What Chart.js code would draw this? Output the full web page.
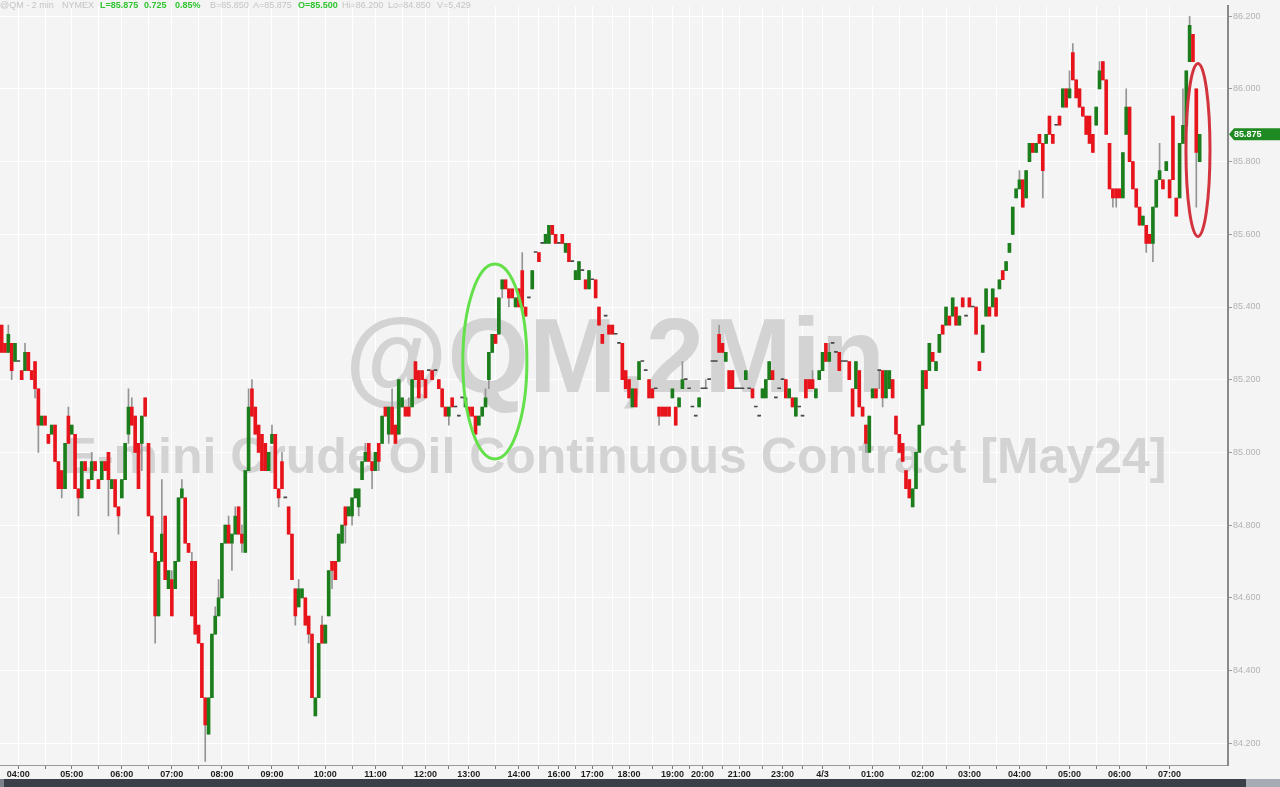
<!DOCTYPE html>
<html><head><meta charset="utf-8">
<script src="https://cdn.jsdelivr.net/npm/chart.js@4.4.1/dist/chart.umd.min.js"></script>
<style>html,body{margin:0;padding:0;background:#f4f4f4;overflow:hidden}canvas{display:block}</style>
</head><body>
<canvas id="c" width="1280" height="787"></canvas>
<script>
// ---- Candle data (2-min bars) ----
const opens = [
85.35,85.3,85.275,85.3,85.25,85.25,85.225,85.225,85.275,85.225,
85.25,85.175,85.075,85.1,85.05,85.05,85.075,84.975,84.95,84.9,
85.1,85.05,85.05,84.9,84.875,84.975,84.925,84.925,84.975,84.925,
84.925,84.975,85.0,84.9,84.925,84.85,84.875,84.925,85.05,85.125,
85.1,85.025,85.025,85.15,85.025,84.825,84.725,84.55,84.7,84.825,
84.625,84.65,84.625,84.7,84.875,84.875,84.75,84.7,84.7,84.525,
84.475,84.325,84.225,84.325,84.5,84.55,84.6,84.75,84.8,84.75,
84.775,84.85,84.775,84.725,84.95,85.175,85.125,85.075,85.05,85.025,
84.95,85.025,85.05,84.9,84.975,84.875,84.85,84.775,84.625,84.575,
84.6,84.6,84.55,84.5,84.275,84.325,84.525,84.475,84.55,84.7,
84.7,84.7,84.75,84.85,84.825,84.825,84.875,84.85,84.925,84.975,
85.025,84.975,84.95,85.025,85.025,85.125,85.05,85.125,85.075,85.05,
85.125,85.125,85.125,85.125,85.25,85.225,85.225,85.2,85.225,85.225,
85.225,85.2,85.175,85.125,85.1,85.15,85.125,85.1,85.15,85.125,
85.125,85.125,85.1,85.075,85.1,85.125,85.2,85.275,85.325,85.325,
85.45,85.475,85.45,85.45,85.4,85.45,85.5,85.4,85.425,85.45,
85.55,85.55,85.575,85.575,85.575,85.625,85.6,85.575,85.6,85.55,
85.575,85.525,85.475,85.475,85.5,85.475,85.45,85.475,85.475,85.4,
85.325,85.375,85.35,85.35,85.325,85.3,85.3,85.225,85.2,85.125,
85.175,85.2,85.25,85.225,85.2,85.175,85.175,85.125,85.125,85.125,
85.125,85.15,85.125,85.125,85.175,85.2,85.175,85.125,85.1,85.125,
85.175,85.175,85.2,85.25,85.25,85.325,85.3,85.25,85.225,85.225,
85.175,85.175,85.175,85.2,85.175,85.175,85.125,85.1,85.15,85.15,
85.2,85.225,85.15,85.175,85.2,85.2,85.15,85.15,85.1,85.125,
85.1,85.2,85.2,85.2,85.15,85.2,85.225,85.3,85.25,85.3,
85.275,85.275,85.25,85.25,85.25,85.175,85.175,85.225,85.125,85.075,
85.0,85.15,85.175,85.225,85.225,85.15,85.175,85.2,85.1,85.05,
85.025,84.95,84.925,84.85,84.9,85.0,85.075,85.225,85.225,85.275,
85.225,85.275,85.35,85.35,85.375,85.375,85.4,85.35,85.425,85.375,
85.425,85.4,85.4,85.25,85.275,85.375,85.4,85.4,85.425,85.45,
85.5,85.5,85.55,85.6,85.7,85.725,85.75,85.7,85.8,85.85,
85.825,85.875,85.85,85.85,85.925,85.875,85.9,85.925,85.95,86.0,
85.975,86.1,86.025,86.0,85.95,85.925,85.925,85.875,85.9,86.0,
86.075,86.025,85.85,85.725,85.725,85.725,85.7,85.875,85.95,85.8,
85.725,85.675,85.625,85.625,85.6,85.575,85.675,85.75,85.75,85.775,
85.75,85.925,85.7,85.7,85.85,85.9,86.075,86.15,86.0,85.8
];
const highs = [
85.35,85.3,85.35,85.3,85.3,85.25,85.225,85.3,85.275,85.225,
85.25,85.175,85.1,85.1,85.05,85.075,85.075,84.975,84.95,85.025,
85.125,85.075,85.05,84.9,84.975,84.975,84.925,85.0,84.975,84.925,
84.975,84.975,85.0,84.925,84.925,84.85,84.925,85.025,85.175,85.15,
85.1,85.025,85.1,85.15,85.025,84.825,84.725,84.7,84.925,84.825,
84.675,84.675,84.7,84.875,84.925,84.875,84.75,84.725,84.7,84.525,
84.475,84.325,84.325,84.5,84.575,84.65,84.75,84.8,84.825,84.775,
84.85,84.85,84.8,84.95,85.175,85.2,85.125,85.075,85.05,85.025,
85.0,85.075,85.05,84.9,85.0,84.875,84.85,84.775,84.625,84.65,
84.625,84.6,84.55,84.5,84.325,84.475,84.55,84.525,84.675,84.7,
84.7,84.775,84.8,84.85,84.85,84.875,84.9,84.9,84.975,85.025,
85.025,84.975,85.0,85.025,85.1,85.125,85.125,85.175,85.075,85.2,
85.15,85.125,85.15,85.2,85.25,85.225,85.225,85.2,85.225,85.225,
85.225,85.2,85.175,85.125,85.125,85.15,85.125,85.1,85.15,85.15,
85.125,85.125,85.1,85.1,85.125,85.175,85.275,85.325,85.325,85.425,
85.475,85.475,85.45,85.45,85.425,85.45,85.55,85.4,85.425,85.5,
85.55,85.55,85.575,85.6,85.625,85.625,85.6,85.575,85.6,85.575,
85.575,85.525,85.5,85.525,85.5,85.475,85.5,85.475,85.475,85.4,
85.325,85.375,85.35,85.35,85.325,85.3,85.3,85.225,85.2,85.175,
85.175,85.25,85.25,85.225,85.2,85.175,85.175,85.125,85.125,85.125,
85.125,85.175,85.125,85.15,85.25,85.2,85.175,85.125,85.1,85.15,
85.175,85.2,85.2,85.25,85.25,85.35,85.3,85.275,85.225,85.225,
85.175,85.175,85.175,85.225,85.175,85.175,85.125,85.1,85.175,85.2,
85.25,85.225,85.15,85.175,85.2,85.2,85.175,85.15,85.15,85.125,
85.1,85.2,85.2,85.225,85.175,85.225,85.275,85.3,85.3,85.3,
85.275,85.275,85.25,85.25,85.25,85.175,85.25,85.225,85.125,85.075,
85.1,85.175,85.175,85.225,85.225,85.225,85.225,85.2,85.1,85.05,
85.025,84.95,84.925,84.9,85.0,85.075,85.225,85.225,85.3,85.275,
85.25,85.325,85.35,85.4,85.375,85.425,85.4,85.375,85.425,85.375,
85.425,85.4,85.4,85.25,85.35,85.45,85.4,85.45,85.425,85.475,
85.5,85.525,85.575,85.675,85.725,85.775,85.75,85.775,85.85,85.85,
85.85,85.875,85.85,85.875,85.925,85.875,85.9,85.925,86.0,86.0,
86.05,86.125,86.025,86.0,85.95,85.925,85.925,85.875,85.95,86.075,
86.075,86.025,85.85,85.725,85.725,85.725,85.825,86.0,85.95,85.8,
85.725,85.675,85.65,85.625,85.6,85.675,85.75,85.85,85.75,85.8,
85.75,85.925,85.7,85.85,86.0,86.05,86.2,86.15,86.0,85.875
];
const lows = [
85.275,85.275,85.275,85.2,85.25,85.25,85.2,85.225,85.225,85.2,
85.15,85.0,85.075,85.075,85.025,85.05,84.975,84.9,84.875,84.9,
85.025,85.05,84.9,84.825,84.875,84.95,84.9,84.925,84.95,84.9,
84.925,84.95,84.825,84.9,84.85,84.775,84.875,84.925,85.025,85.075,
85.0,84.9,84.95,85.1,84.825,84.725,84.475,84.55,84.7,84.65,
84.625,84.55,84.625,84.7,84.875,84.75,84.725,84.55,84.5,84.475,
84.325,84.15,84.225,84.325,84.5,84.55,84.6,84.75,84.75,84.675,
84.775,84.775,84.725,84.725,84.95,85.1,85.05,85.0,84.95,84.95,
84.95,85.025,84.9,84.85,84.9,84.875,84.775,84.65,84.525,84.575,
84.6,84.525,84.475,84.325,84.275,84.325,84.475,84.475,84.55,84.625,
84.65,84.7,84.75,84.75,84.825,84.8,84.875,84.825,84.925,84.975,
84.975,84.9,84.95,84.95,85.025,85.1,85.025,85.05,85.025,85.05,
85.125,85.1,85.1,85.125,85.2,85.15,85.2,85.15,85.225,85.2,
85.225,85.175,85.125,85.1,85.075,85.125,85.125,85.1,85.15,85.125,
85.1,85.1,85.05,85.075,85.1,85.125,85.175,85.275,85.3,85.325,
85.425,85.45,85.4,85.425,85.4,85.4,85.4,85.375,85.425,85.45,
85.55,85.525,85.575,85.575,85.575,85.6,85.575,85.575,85.575,85.55,
85.525,85.525,85.475,85.475,85.5,85.45,85.45,85.475,85.425,85.35,
85.3,85.375,85.325,85.325,85.325,85.3,85.2,85.175,85.15,85.125,
85.125,85.2,85.25,85.225,85.15,85.15,85.175,85.075,85.1,85.1,
85.1,85.15,85.075,85.125,85.175,85.2,85.175,85.125,85.1,85.125,
85.175,85.175,85.2,85.25,85.25,85.275,85.275,85.25,85.175,85.175,
85.175,85.175,85.175,85.2,85.175,85.15,85.125,85.1,85.15,85.15,
85.2,85.2,85.15,85.175,85.2,85.15,85.15,85.125,85.1,85.125,
85.1,85.15,85.175,85.175,85.15,85.2,85.225,85.25,85.25,85.3,
85.275,85.225,85.25,85.25,85.2,85.1,85.175,85.125,85.1,85.0,
85.0,85.15,85.15,85.175,85.125,85.15,85.175,85.15,85.05,85.0,
84.975,84.9,84.875,84.85,84.9,85.0,85.075,85.175,85.225,85.25,
85.225,85.275,85.325,85.35,85.35,85.375,85.35,85.35,85.4,85.375,
85.4,85.4,85.325,85.225,85.275,85.375,85.375,85.4,85.375,85.45,
85.475,85.5,85.55,85.6,85.7,85.725,85.675,85.7,85.8,85.825,
85.825,85.85,85.7,85.85,85.875,85.85,85.9,85.9,85.95,85.95,
85.975,86.025,85.975,85.95,85.925,85.875,85.85,85.825,85.9,86.0,
86.025,85.875,85.725,85.675,85.675,85.7,85.7,85.875,85.8,85.725,
85.675,85.625,85.625,85.55,85.575,85.525,85.675,85.75,85.725,85.775,
85.7,85.75,85.65,85.7,85.85,85.9,86.075,86.075,85.675,85.8
];
const closes = [
85.275,85.275,85.325,85.225,85.3,85.25,85.2,85.275,85.225,85.2,
85.175,85.075,85.1,85.075,85.025,85.075,84.975,84.9,84.9,85.025,
85.025,85.075,84.9,84.875,84.975,84.95,84.9,84.975,84.95,84.9,
84.975,84.95,84.925,84.925,84.85,84.825,84.925,85.025,85.125,85.075,
85.0,84.9,85.1,85.1,84.825,84.725,84.55,84.7,84.775,84.65,
84.675,84.55,84.7,84.875,84.9,84.75,84.725,84.55,84.5,84.475,
84.325,84.25,84.325,84.5,84.55,84.6,84.75,84.8,84.75,84.775,
84.825,84.775,84.75,84.95,85.125,85.1,85.05,85.0,84.95,84.95,
85.0,85.05,84.9,84.875,84.9,84.875,84.775,84.65,84.55,84.625,
84.625,84.525,84.5,84.325,84.325,84.475,84.475,84.525,84.675,84.675,
84.65,84.775,84.8,84.8,84.85,84.875,84.9,84.9,84.975,85.0,
84.975,84.95,85.0,84.975,85.1,85.1,85.125,85.05,85.025,85.2,
85.15,85.1,85.1,85.2,85.2,85.15,85.2,85.15,85.225,85.2,
85.225,85.175,85.125,85.1,85.125,85.125,85.125,85.1,85.15,85.15,
85.1,85.1,85.05,85.1,85.125,85.15,85.275,85.325,85.3,85.425,
85.475,85.45,85.425,85.425,85.425,85.4,85.4,85.375,85.425,85.5,
85.55,85.525,85.575,85.6,85.625,85.6,85.575,85.575,85.575,85.575,
85.525,85.525,85.5,85.525,85.5,85.45,85.5,85.475,85.425,85.35,
85.3,85.375,85.325,85.325,85.325,85.3,85.2,85.175,85.15,85.175,
85.125,85.25,85.25,85.225,85.15,85.15,85.175,85.1,85.1,85.1,
85.1,85.175,85.075,85.15,85.2,85.2,85.175,85.125,85.1,85.15,
85.175,85.175,85.2,85.25,85.25,85.275,85.275,85.275,85.175,85.175,
85.175,85.175,85.175,85.225,85.175,85.15,85.125,85.1,85.175,85.2,
85.25,85.2,85.15,85.175,85.2,85.15,85.175,85.125,85.15,85.125,
85.1,85.15,85.175,85.175,85.175,85.225,85.275,85.25,85.275,85.3,
85.275,85.225,85.25,85.25,85.2,85.1,85.25,85.125,85.1,85.025,
85.1,85.175,85.15,85.225,85.15,85.225,85.225,85.15,85.05,85.0,
84.975,84.9,84.875,84.9,85.0,85.075,85.225,85.175,85.3,85.25,
85.25,85.325,85.325,85.4,85.35,85.425,85.35,85.375,85.4,85.375,
85.4,85.4,85.325,85.225,85.35,85.45,85.375,85.45,85.375,85.475,
85.475,85.525,85.575,85.675,85.725,85.75,85.675,85.775,85.85,85.825,
85.85,85.85,85.775,85.875,85.875,85.85,85.9,85.9,86.0,85.95,
86.0,86.025,85.975,85.95,85.925,85.875,85.85,85.825,85.95,86.05,
86.025,85.875,85.725,85.7,85.7,85.7,85.825,85.95,85.8,85.725,
85.675,85.625,85.65,85.575,85.575,85.675,85.75,85.775,85.725,85.8,
85.7,85.75,85.65,85.85,85.9,86.05,86.175,86.075,85.825,85.875
];

// ---- Axis labels ----
const hourLabels = ["04:00","05:00","06:00","07:00","08:00","09:00","10:00","11:00","12:00","13:00","14:00","16:00","17:00","18:00","19:00","20:00","21:00","23:00","4/3","01:00","02:00","03:00","04:00","05:00","06:00","07:00"];
const hourSlots  = [5,21,36,51,66,81,97,112,127,140,155,167,177,188,201,210,221,234,246,261,276,290,305,320,335,350];
const yTicks = [84.2,84.4,84.6,84.8,85.0,85.2,85.4,85.6,85.8,86.0,86.2];
const SLOTS = 368;

// ---- Annotations (in data units) ----
const greenEllipse = {slot:147.8, price:85.25, rSlots:9.6, rPrice:0.268};
const redEllipse   = {slot:358.5, price:85.832, rSlots:3.6, rPrice:0.238};

const headerParts = [
  {t:'@QM - 2 min', x:0, g:false},{t:'NYMEX', x:62, g:false},{t:'L=85.875', x:100, g:true},
  {t:'0.725', x:144, g:true},{t:'0.85%', x:175, g:true},{t:'B=85.850', x:210, g:false},
  {t:'A=85.875', x:253, g:false},{t:'O=85.500', x:298, g:true},{t:'Hi=86.200', x:342, g:false},
  {t:'Lo=84.850', x:388, g:false},{t:'V=5,429', x:437, g:false}
];

// ---- Build chart ----
const labels = Array.from({length:SLOTS}, (_, i) => i);
const labelMap = {};
hourSlots.forEach((s, i) => labelMap[s] = hourLabels[i]);
const gridSet = new Set(hourSlots);
for (let i = 0; i < hourSlots.length - 1; i++) gridSet.add(Math.round((hourSlots[i] + hourSlots[i+1]) / 2));

const wickData = lows.map((l, i) => [l, highs[i]]);
const bodyData = opens.map((o, i) => [o, closes[i]]);
const bodyColors = opens.map((o, i) => closes[i] > o ? '#1b7d1b' : (closes[i] < o ? '#e8141c' : '#4a4a4a'));

const FONT = '"Liberation Sans", Arial, sans-serif';

const decor = {
  id: 'decor',
  beforeDraw(chart) {
    const ctx = chart.ctx;
    ctx.save();
    ctx.fillStyle = '#f4f4f4';
    ctx.fillRect(0, 0, chart.width, chart.height);
    ctx.restore();
  },
  beforeDatasetsDraw(chart) {
    const ctx = chart.ctx, a = chart.chartArea;
    const cx = (a.left + a.right) / 2;
    ctx.save();
    ctx.fillStyle = '#d3d3d3';
    ctx.textAlign = 'center';
    ctx.textBaseline = 'alphabetic';
    ctx.font = 'bold 105px ' + FONT;
    ctx.fillText('@QM,2Min', cx + 1, 392);
    ctx.font = 'bold 50px ' + FONT;
    ctx.fillText('E-mini Crude Oil Continuous Contract [May24]', cx + 1, 473);
    ctx.restore();
  },
  afterDraw(chart) {
    const ctx = chart.ctx, xs = chart.scales.x, ys = chart.scales.y;
    const x0 = xs.getPixelForValue(0), x1 = xs.getPixelForValue(1), step = x1 - x0;
    const unitY = Math.abs(ys.getPixelForValue(85) - ys.getPixelForValue(86));
    function ell(e, color) {
      ctx.save();
      ctx.strokeStyle = color; ctx.lineWidth = 3;
      ctx.beginPath();
      ctx.ellipse(x0 + e.slot * step, ys.getPixelForValue(e.price), e.rSlots * step, e.rPrice * unitY, 0, 0, Math.PI * 2);
      ctx.stroke();
      ctx.restore();
    }
    ell(greenEllipse, '#63e04a');
    ell(redEllipse, '#d2333d');

    // header
    ctx.save();
    ctx.textBaseline = 'middle';
    headerParts.forEach(p => {
      ctx.font = (p.g ? 'bold ' : '') + '9px ' + FONT;
      ctx.fillStyle = p.g ? '#2fc42f' : '#c4c4c4';
      ctx.fillText(p.t, p.x, 6);
    });
    ctx.restore();

    // last price tag
    const last = closes[closes.length - 1];
    const ty = ys.getPixelForValue(last);
    const ax = chart.chartArea.right + 1;
    ctx.save();
    ctx.fillStyle = '#1f8a22';
    ctx.beginPath();
    ctx.moveTo(ax, ty);
    ctx.lineTo(ax + 5, ty - 6);
    ctx.lineTo(1280, ty - 6);
    ctx.lineTo(1280, ty + 6);
    ctx.lineTo(ax + 5, ty + 6);
    ctx.closePath();
    ctx.fill();
    ctx.fillStyle = '#ffffff';
    ctx.font = 'bold 9px ' + FONT;
    ctx.textBaseline = 'middle';
    ctx.fillText(last.toFixed(3), ax + 5, ty + 0.5);
    ctx.restore();

    // bottom scroll bar
    ctx.save();
    ctx.fillStyle = '#3b3f48';
    ctx.fillRect(0, 779, 1280, 8);
    ctx.fillStyle = '#a7abb3';
    ctx.fillRect(1246, 779, 34, 8);
    ctx.fillStyle = '#7c818a';
    ctx.fillRect(0, 779, 4, 8);
    ctx.restore();
  }
};

new Chart(document.getElementById('c'), {
  type: 'bar',
  data: {
    labels: labels,
    datasets: [
      {data: bodyData, backgroundColor: bodyColors, barThickness: 3, minBarLength: 1, grouped: false, order: 1, borderWidth: 0},
      {data: wickData, backgroundColor: '#959595', barThickness: 1, grouped: false, order: 2, borderWidth: 0}
    ]
  },
  options: {
    responsive: false,
    animation: false,
    devicePixelRatio: 1,
    layout: {padding: 0},
    plugins: {legend: {display: false}, tooltip: {enabled: false}},
    scales: {
      x: {
        type: 'category',
        offset: true,
        grid: {
          offset: false,
          drawTicks: true,
          tickLength: 4,
          color: c => gridSet.has(c.index) ? '#ffffff' : 'rgba(0,0,0,0)',
          tickColor: c => gridSet.has(c.index) ? '#777777' : 'rgba(0,0,0,0)'
        },
        border: {display: true, color: '#9a9a9a', width: 1},
        ticks: {
          autoSkip: false, maxRotation: 0, minRotation: 0, padding: 0,
          color: '#1e1e1e', font: {size: 9, weight: 'bold', family: FONT},
          callback: (v, i) => labelMap[i] || ''
        },
        afterFit: s => { s.height = 22; }
      },
      y: {
        position: 'right',
        min: 84.14, max: 86.227,
        afterBuildTicks: s => { s.ticks = yTicks.map(v => ({value: v})); },
        grid: {color: '#ffffff', tickColor: '#9a9a9a', tickLength: 4, lineWidth: 1},
        border: {display: true, color: '#8a8a8a', width: 2},
        ticks: {padding: 1, color: '#b3b3b3', font: {size: 9, family: FONT}, callback: v => Number(v).toFixed(3)},
        afterFit: s => { s.width = 52; }
      }
    }
  },
  plugins: [decor]
});
</script>
</body></html>
